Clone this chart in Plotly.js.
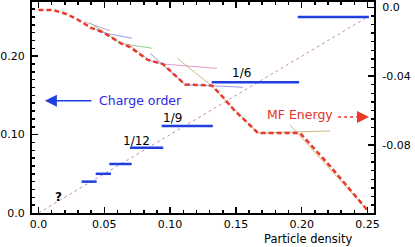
<!DOCTYPE html>
<html><head><meta charset="utf-8">
<script src="https://cdn.plot.ly/plotly-3.0.1.min.js"></script>
<style>html,body{margin:0;padding:0;background:#fff}#chart{width:415px;height:247px}</style>
</head><body><div id="chart"></div>
<script>
// Mean-field energy (right axis)
const energyX = [0.0, 0.011, 0.0201, 0.0277, 0.0353, 0.0399, 0.0437, 0.0498, 0.0551, 0.0627, 0.0695, 0.0832, 0.0946, 0.1113, 0.1318, 0.1394, 0.1486, 0.1668, 0.1987, 0.2215, 0.2504];
const energyY = [-0.0016, -0.0016, -0.0036, -0.0062, -0.0097, -0.0120, -0.0129, -0.0149, -0.0173, -0.0210, -0.0231, -0.0306, -0.0330, -0.0449, -0.0455, -0.0516, -0.0597, -0.0731, -0.0731, -0.0923, -0.1184];

// Energies of individual charge-order phases (thin lines, right axis)
const phase25X = [0.0353, 0.0543];
const phase25Y = [-0.0084, -0.0136];
const phase16X = [0.0391, 0.0627, 0.0862];
const phase16Y = [-0.0090, -0.0210, -0.0238];
const phase20X = [0.0437, 0.0498, 0.0711];
const phase20Y = [-0.0129, -0.0149, -0.0180];
const phase12X = [0.0680, 0.0847, 0.0946, 0.1356];
const phase12Y = [-0.0213, -0.0311, -0.0330, -0.0355];
const phase9X = [0.0847, 0.1113, 0.1554];
const phase9Y = [-0.0267, -0.0449, -0.0465];
const phase6X = [0.1052, 0.1318, 0.1478, 0.1668, 0.2215];
const phase6Y = [-0.0295, -0.0458, -0.0586, -0.0731, -0.0719];
const phase4X = [0.1911, 0.2504];
const phase4Y = [-0.0684, -0.1184];

// Charge order plateaus (left axis)
const orderValue = [0.25, 1/6, 1/9, 1/12, 1/16, 1/20, 1/25];
const orderStart = [0.197, 0.1316, 0.0936, 0.0695, 0.0538, 0.0435, 0.0328];
const orderEnd   = [0.251, 0.198, 0.1324, 0.0948, 0.0708, 0.0551, 0.0442];

// Diagonal reference (left axis)
const diagX = [0, 0.25];
const diagY = [0, 0.25];

// Tick labels
const xTickVals = [0, 0.05, 0.10, 0.15, 0.20, 0.25];
const xTickText = ['0.0', '0.05', '0.10', '0.15', '0.20', '0.25'];
const yTickVals = [0, 0.10, 0.20];
const yTickText = ['0.0', '0.10', '0.20'];
const y2TickVals = [0, -0.04, -0.08];
const y2TickText = ['0.0', '-0.04', '-0.08'];

const barX = [], barY = [];
orderValue.forEach((v, i) => { barX.push(orderStart[i], orderEnd[i], null); barY.push(v, v, null); });

function thin(x, y, color) {
  return {x: x, y: y, yaxis: 'y2', mode: 'lines', line: {color: color, width: 1}, hoverinfo: 'skip', showlegend: false};
}

const traces = [
  {x: diagX, y: diagY, mode: 'lines', line: {color: '#c98bbd', width: 1, dash: '3px,3px'}, showlegend: false},
  {x: barX, y: barY, mode: 'lines', line: {color: '#1f3fe0', width: 2.5}, showlegend: false},
  thin(phase25X, phase25Y, '#d99ccb'),
  thin(phase16X, phase16Y, '#8fcf8f'),
  thin(phase20X, phase20Y, '#9a9ae0'),
  thin(phase12X, phase12Y, '#d99ccb'),
  thin(phase9X, phase9Y, '#9a9ae0'),
  thin(phase6X, phase6Y, '#cdb883'),
  thin(phase4X, phase4Y, '#cdb883'),
  {x: energyX, y: energyY, yaxis: 'y2', mode: 'lines', line: {color: '#e8392b', width: 2.5, dash: '5px,3px'}, showlegend: false}
];

const font = {family: 'DejaVu Sans', size: 11, color: '#000'};
const layout = {
  width: 415, height: 247,
  margin: {l: 32, r: 41, t: 2, b: 34},
  paper_bgcolor: '#fff', plot_bgcolor: '#fff',
  font: font,
  showlegend: false,
  xaxis: {
    range: [-0.0049, 0.2549], tickmode: 'array', tickvals: xTickVals, ticktext: xTickText,
    ticks: 'inside', ticklen: 6, tickwidth: 1.5, tickcolor: '#000',
    minor: {tickmode: 'linear', tick0: 0, dtick: 0.01, ticks: 'inside', ticklen: 3, tickwidth: 1.5, tickcolor: '#000'},
    showline: true, linewidth: 2, linecolor: '#000', mirror: 'ticks',
    showgrid: false, zeroline: false, tickfont: font, ticklabelstandoff: 0
  },
  yaxis: {
    range: [0, 0.2691], tickmode: 'array', tickvals: yTickVals, ticktext: yTickText,
    ticks: 'inside', ticklen: 6, tickwidth: 1.5, tickcolor: '#000',
    minor: {tickmode: 'linear', tick0: 0, dtick: 0.01, ticks: 'inside', ticklen: 3, tickwidth: 1.5, tickcolor: '#000'},
    showline: true, linewidth: 2, linecolor: '#000',
    showgrid: false, zeroline: false, tickfont: font, ticklabelstandoff: 3
  },
  yaxis2: {
    overlaying: 'y', side: 'right',
    range: [-0.1196, 0.00308], tickmode: 'array', tickvals: y2TickVals, ticktext: y2TickText,
    ticks: 'inside', ticklen: 6, tickwidth: 1.5, tickcolor: '#000',
    minor: {tickmode: 'linear', tick0: 0, dtick: 0.005, ticks: 'inside', ticklen: 3, tickwidth: 1.5, tickcolor: '#000'},
    showline: true, linewidth: 2, linecolor: '#000',
    showgrid: false, zeroline: false, tickfont: font, ticklabelstandoff: 4
  },
  shapes: [
    {type: 'line', xref: 'x', yref: 'y', x0: 0.2276, x1: 0.2445, y0: 0.1224, y1: 0.1224,
     line: {color: '#e8392b', width: 1.5, dash: 'dot'}}
  ],
  annotations: [
    {text: 'Particle density', xref: 'x', yref: 'paper', x: 0.2405, y: -0.122, xanchor: 'right', yanchor: 'middle', showarrow: false, font: {family: 'DejaVu Sans', size: 11.5, color: '#000'}},
    {text: 'Charge order', xref: 'x', yref: 'y', x: 0.0445, y: 0.1432, xanchor: 'left', yanchor: 'middle', showarrow: false, font: {family: 'DejaVu Sans', size: 12.5, color: '#2a2ae6'}},
    {text: '', xref: 'x', yref: 'y', x: 0.0049, y: 0.1432, ax: 48, ay: 0, showarrow: true, arrowhead: 2, arrowsize: 1.6, arrowwidth: 1.5, arrowcolor: '#1f3fe0'},
    {text: 'MF Energy', xref: 'x', yref: 'y', x: 0.1721, y: 0.1252, xanchor: 'left', yanchor: 'middle', showarrow: false, font: {family: 'DejaVu Sans', size: 12.5, color: '#e8302a'}},
    {text: '', xref: 'x', yref: 'y', x: 0.2511, y: 0.1224, ax: -10, ay: 0, showarrow: true, arrowhead: 2, arrowsize: 1.6, arrowwidth: 1.5, arrowcolor: '#e8392b'},
    {text: '1/6', xref: 'x', yref: 'y', x: 0.1546, y: 0.179, showarrow: false, font: {family: 'DejaVu Sans', size: 12, color: '#000'}},
    {text: '1/9', xref: 'x', yref: 'y', x: 0.1022, y: 0.1215, showarrow: false, font: {family: 'DejaVu Sans', size: 12, color: '#000'}},
    {text: '1/12', xref: 'x', yref: 'y', x: 0.0741, y: 0.0922, showarrow: false, font: {family: 'DejaVu Sans', size: 12, color: '#000'}},
    {text: '<b>?</b>', xref: 'x', yref: 'y', x: 0.015, y: 0.0199, showarrow: false, font: {family: 'DejaVu Sans', size: 12, color: '#000'}}
  ]
};

Plotly.newPlot('chart', traces, layout, {staticPlot: true, displayModeBar: false});
</script>
</body></html>
